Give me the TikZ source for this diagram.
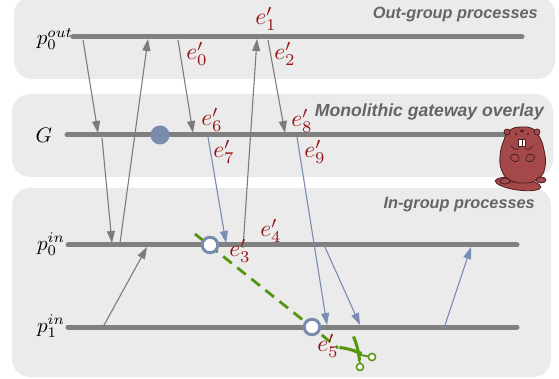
\RequirePackage{fix-cm}
\documentclass[tikz,border=0pt]{standalone}
\usepackage{fontspec}
\setsansfont{Liberation Sans}
\usetikzlibrary{arrows.meta}
\definecolor{panelfill}{HTML}{EBEBEB}
\definecolor{procgray}{HTML}{808080}
\definecolor{arrgray}{HTML}{7C7C7C}
\definecolor{arrblue}{HTML}{7A8DB3}
\definecolor{dotblue}{HTML}{7A8CAD}
\definecolor{labred}{HTML}{961414}
\definecolor{titlegray}{HTML}{656565}
\definecolor{cutgreen}{HTML}{55950F}
\definecolor{beaverfill}{HTML}{A5484A}
\definecolor{beaverline}{HTML}{4A1E1E}
\tikzset{
  panel/.style={fill=panelfill, draw=none, rounded corners=18pt},
  proc/.style={draw=procgray, line width=5pt, line cap=round},
  msg/.style={draw=arrgray, line width=1.1pt, -{Triangle[length=12pt,width=8pt]}},
  msgblue/.style={draw=arrblue, fill=arrblue, line width=1.1pt, -{Triangle[length=12pt,width=8pt]}},
  evlabel/.style={text=labred, inner sep=0pt, scale=2.35, transform shape},
  plabel/.style={inner sep=0pt, scale=2.1, transform shape},
  grouptitle/.style={text=titlegray, font=\fontsize{16.3}{19}\selectfont\sffamily\bfseries\itshape, anchor=east, inner sep=0pt},
  hollow/.style={circle, draw=dotblue, line width=3pt, fill=white, minimum size=15.5pt, inner sep=0pt},
  beaver/.style={fill=beaverfill, draw=beaverline, line width=0.8pt},
}
\begin{document}
\begin{tikzpicture}[x=1pt,y=-1pt]
\useasboundingbox (0,0) rectangle (559,379);

% group panels
\fill[panel] (14,-4) rectangle (555,79);
\fill[panel] (12,94) rectangle (553,177);
\fill[panel] (12,188) rectangle (551,377);

\node[grouptitle] (tout) at (538,15) {Out-group processes};
\node[grouptitle, font=\fontsize{17.6}{20}\selectfont\sffamily\bfseries\itshape] (tgw) at (544,112) {Monolithic gateway overlay};
\node[grouptitle] (tin)  at (535,205) {In-group processes};

% process time lines
\coordinate (po0a) at (73,37);  \coordinate (po0b) at (522,37);
\coordinate (ga)   at (67,135); \coordinate (gb)   at (507,135);
\coordinate (pi0a) at (68,245); \coordinate (pi0b) at (517,245);
\coordinate (pi1a) at (68,327); \coordinate (pi1b) at (517,327);
\draw[proc] (po0a) -- (po0b);
\draw[proc] (ga) -- (gb);
\draw[proc] (pi0a) -- (pi0b);
\draw[proc] (pi1a) -- (pi1b);

\node[plabel] (lpo0) at (55,39) {$p_0^{out}$};
\node[plabel] (lg)   at (44,135) {$G$};
\node[plabel] (lpi0) at (51,244) {$p_0^{in}$};
\node[plabel] (lpi1) at (51,326) {$p_1^{in}$};

% cut line
\coordinate (cuta) at (195,234);
\coordinate (cutb) at (338,348);
\draw[cutgreen, line width=2.8pt, dash pattern=on 11pt off 7pt] (cuta) -- (cutb);

% message end points
\coordinate (m1s) at (83,40);   \coordinate (m1e) at (98,133);
\coordinate (m2s) at (102,138); \coordinate (m2e) at (112,243);
\coordinate (m3s) at (120,243); \coordinate (m3e) at (148,39);
\coordinate (m4s) at (178,40);  \coordinate (m4e) at (193,133);
\coordinate (m5s) at (208,137); \coordinate (m5e) at (226,243);
\coordinate (m6s) at (243,248); \coordinate (m6e) at (257,39);
\coordinate (m7s) at (268,40);  \coordinate (m7e) at (285,133);
\coordinate (m8s) at (297,137); \coordinate (m8e) at (327,325);
\coordinate (m9s) at (324,245); \coordinate (m9e) at (360,325);
\coordinate (m10s) at (444,328); \coordinate (m10e) at (471,247);
\coordinate (m11s) at (103,327); \coordinate (m11e) at (147,247);

\draw[msg] (m1s) -- (m1e);
\draw[msg] (m2s) -- (m2e);
\draw[msg] (m3s) -- (m3e);
\draw[msg] (m4s) -- (m4e);
\draw[msgblue] (m5s) -- (m5e);
\draw[msg] (m6s) -- (m6e);
\draw[msg] (m7s) -- (m7e);
\draw[msgblue] (m8s) -- (m8e);
\draw[msgblue] (m9s) -- (m9e);
\draw[msgblue] (m10s) -- (m10e);
\draw[msg] (m11s) -- (m11e);

% gateway state and snapshot points
\fill[dotblue] (160,135) circle (9.5pt);
\node[hollow] (snap0) at (210,245) {};
\node[hollow] (snap1) at (312,327) {};

% event labels
\node[evlabel] (e0) at (197,54) {$e'_0$};
\node[evlabel] (e1) at (266,19) {$e'_1$};
\node[evlabel] (e2) at (285,54) {$e'_2$};
\node[evlabel] (e3) at (240,251) {$e'_3$};
\node[evlabel] (e4) at (271,231) {$e'_4$};
\node[evlabel] (e5) at (328,346) {$e'_5$};
\node[evlabel] (e6) at (212,120) {$e'_6$};
\node[evlabel] (e7) at (224,152) {$e'_7$};
\node[evlabel] (e8) at (302,121) {$e'_8$};
\node[evlabel] (e9) at (315,152) {$e'_9$};

% scissors at the end of the cut
\begin{scope}[cutgreen]
  \fill (339,349) .. controls (348,350) and (355,352) .. (361,356) -- (362,352) .. controls (355,349) and (348,347) .. (340,346) -- cycle;
  \fill (352,337) .. controls (355,344) and (357,351) .. (358,361) -- (361,360) .. controls (360,351) and (358,343) .. (355,336) -- cycle;
  \draw[line width=1.5pt, fill=white] (372,357) circle (3.6pt);
  \draw[line width=1.5pt, fill=white] (360,367) circle (3.6pt);
  \draw[line width=1.8pt] (361,355) -- (368.5,356.5);
  \draw[line width=1.8pt] (359,359) -- (360,363.4);
\end{scope}

% beaver mascot
\begin{scope}
  % tail
  \draw[beaver, rotate around={-8:(518,184)}] (518,184) ellipse (23pt and 6pt);
  \draw[beaverline!60!beaverfill, line width=1.2pt] (502,183) -- (535,180);
  % body and head
  \draw[beaver] plot[smooth cycle, tension=0.8] coordinates {
    (522,127) (510,130) (504,140) (500,156) (502,171) (510,180)
    (524,183) (538,179) (545,167) (544,150) (539,136) (533,129)};
  % ears
  \draw[beaver] (507,132) circle (3pt);
  \draw[beaver] (537,132) circle (3pt);
  % eyes and nose
  \fill[beaverline] (516,134) circle (1.1pt);
  \fill[beaverline] (528,134) circle (1.1pt);
  \fill[beaverline] (522,131) ellipse (2pt and 1.3pt);
  % teeth
  \draw[fill=white, draw=beaverline, line width=0.6pt] (518.5,139) rectangle (525.5,146.5);
  \draw[beaverline, line width=0.6pt] (522,139) -- (522,146.5);
  % cheeks and paws
  \draw[beaverline, line width=0.7pt] (511,146) .. controls (514,150) and (518,150) .. (519,148);
  \draw[beaverline, line width=0.7pt] (533,146) .. controls (530,150) and (526,150) .. (525,148);
  \draw[beaverline, line width=0.7pt] (510,157) .. controls (514,152) and (520,154) .. (519,160) .. controls (516,163) and (512,162) .. (510,157);
  \draw[beaverline, line width=0.7pt] (535,157) .. controls (531,152) and (525,154) .. (526,160) .. controls (529,163) and (533,162) .. (535,157);
  % feet
  \draw[beaver] (505,181) ellipse (5pt and 3pt);
  \draw[beaver] (541,180) ellipse (5pt and 3pt);
\end{scope}
\end{tikzpicture}
\end{document}
